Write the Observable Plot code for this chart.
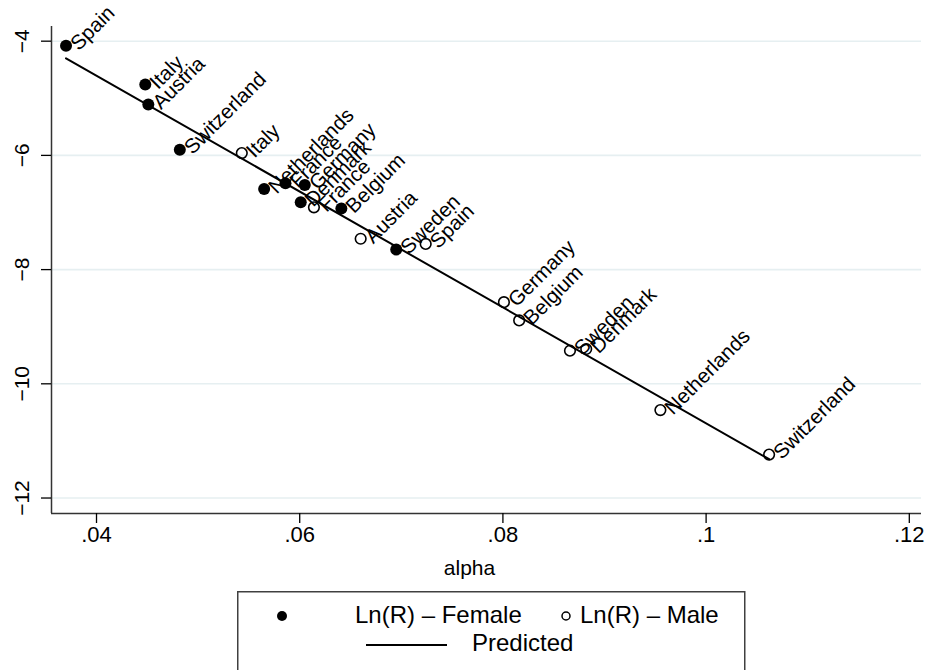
<!DOCTYPE html>
<html>
<head>
<meta charset="utf-8">
<script src="https://cdn.jsdelivr.net/npm/d3@7"></script>
<script src="https://cdn.jsdelivr.net/npm/@observablehq/plot@0.6"></script>
<style>
  html, body { margin: 0; padding: 0; background: #fff; }
  body { width: 926px; height: 670px; overflow: hidden; font-family: "Liberation Sans", Arial, Helvetica, sans-serif; }
  #wrap { position: relative; width: 926px; height: 670px; }
  #legend { position: absolute; left: 237px; top: 591px; }
</style>
</head>
<body>
<div id="wrap">
  <div id="chart"></div>
  <div id="legend"></div>
</div>
<script>
// ---- Data ----
const femaleCountries = ["Spain", "Italy", "Austria", "Switzerland", "Netherlands", "France", "Germany", "Denmark", "Belgium", "Sweden"];
const femaleAlpha = [0.0370, 0.0448, 0.0451, 0.0482, 0.0565, 0.0586, 0.0605, 0.0601, 0.0641, 0.0695];
const femaleLnR = [-4.08, -4.76, -5.11, -5.90, -6.59, -6.49, -6.52, -6.82, -6.93, -7.65];

const maleCountries = ["Italy", "France", "Austria", "Spain", "Germany", "Belgium", "Sweden", "Denmark", "Netherlands", "Switzerland"];
const maleAlpha = [0.0543, 0.0614, 0.0660, 0.0724, 0.0801, 0.0816, 0.0866, 0.0882, 0.0955, 0.1062];
const maleLnR = [-5.96, -6.91, -7.46, -7.55, -8.57, -8.89, -9.42, -9.39, -10.46, -11.24];

const predAlpha = [0.0370, 0.1062];
const predLnR = [-4.30, -11.32];

const xTicks = [0.04, 0.06, 0.08, 0.10, 0.12];
const xTickLabels = [".04", ".06", ".08", ".1", ".12"];
const yTicks = [-4, -6, -8, -10, -12];
const yTickLabels = ["\u22124", "\u22126", "\u22128", "\u221210", "\u221212"];

const xTitle = "alpha";
const legendLabels = ["Ln(R) \u2013 Female", "Ln(R) \u2013 Male", "Predicted"];

// ---- Tables ----
const female = femaleCountries.map((c, i) => ({country: c, alpha: femaleAlpha[i], lnr: femaleLnR[i]}));
const male = maleCountries.map((c, i) => ({country: c, alpha: maleAlpha[i], lnr: maleLnR[i]}));
const pred = predAlpha.map((a, i) => ({alpha: a, lnr: predLnR[i]}));
const all = female.concat(male);

const xDomain = [0.03557, 0.1212];
const yDomain = [-12.271, -3.743];
const font = "Liberation Sans, Arial, Helvetica, sans-serif";
const axisColor = "#333";

const chart = Plot.plot({
  width: 926,
  height: 585,
  marginLeft: 51,
  marginRight: 5,
  marginTop: 26,
  marginBottom: 72,
  style: {fontFamily: font, background: "#fff", color: "#000"},
  x: {domain: xDomain},
  y: {domain: yDomain},
  marks: [
    Plot.ruleY(yTicks, {stroke: "#e6eff1", strokeWidth: 1.6}),
    Plot.ruleX([xDomain[0]], {stroke: axisColor, strokeWidth: 1.5}),
    Plot.ruleY([yDomain[0]], {stroke: axisColor, strokeWidth: 1.5}),
    Plot.axisX({ticks: xTicks, tickFormat: d => xTickLabels[xTicks.indexOf(d)], tickSize: 10, tickPadding: 3, fontSize: 22, label: null, strokeWidth: 1.3}),
    Plot.axisY({ticks: yTicks, tickFormat: () => "", tickSize: 10, label: null, strokeWidth: 1.3}),
    Plot.text(yTicks, {y: d => d, text: (d, i) => yTickLabels[i], frameAnchor: "left", rotate: -90, dx: -29, textAnchor: "middle", lineAnchor: "middle", fontSize: 21}),
    Plot.text([xTitle], {frameAnchor: "bottom", text: d => d, dy: 55, dx: -17, lineAnchor: "middle", fontSize: 21}),
    Plot.line(pred, {x: "alpha", y: "lnr", stroke: "#000", strokeWidth: 2}),
    Plot.dot(female, {x: "alpha", y: "lnr", r: 6, fill: "#000", stroke: "none"}),
    Plot.dot(male, {x: "alpha", y: "lnr", r: 5.3, fill: "none", stroke: "#000", strokeWidth: 1.6}),
    Plot.text(all, {x: "alpha", y: "lnr", text: "country", rotate: -45, textAnchor: "start", lineAnchor: "middle", dx: 8, dy: 1, fontSize: 20.5})
  ]
});
document.getElementById("chart").appendChild(chart);

// ---- Legend (below the SVG) ----
const lg = d3.select("#legend").append("svg")
  .attr("width", 510).attr("height", 100)
  .style("font-family", font).style("display", "block");
lg.append("rect").attr("x", 0.75).attr("y", 0.75).attr("width", 507).attr("height", 120)
  .attr("fill", "#fff").attr("stroke", "#404040").attr("stroke-width", 1.5);
lg.append("circle").attr("cx", 45).attr("cy", 25).attr("r", 5).attr("fill", "#000");
lg.append("text").attr("x", 118).attr("y", 32).attr("font-size", 24).text(legendLabels[0]);
lg.append("circle").attr("cx", 329).attr("cy", 25).attr("r", 4).attr("fill", "none").attr("stroke", "#000").attr("stroke-width", 1.5);
lg.append("text").attr("x", 343).attr("y", 32).attr("font-size", 24).text(legendLabels[1]);
lg.append("line").attr("x1", 129).attr("x2", 210).attr("y1", 54).attr("y2", 54).attr("stroke", "#000").attr("stroke-width", 2);
lg.append("text").attr("x", 235).attr("y", 60).attr("font-size", 24).text(legendLabels[2]);
</script>
</body>
</html>
